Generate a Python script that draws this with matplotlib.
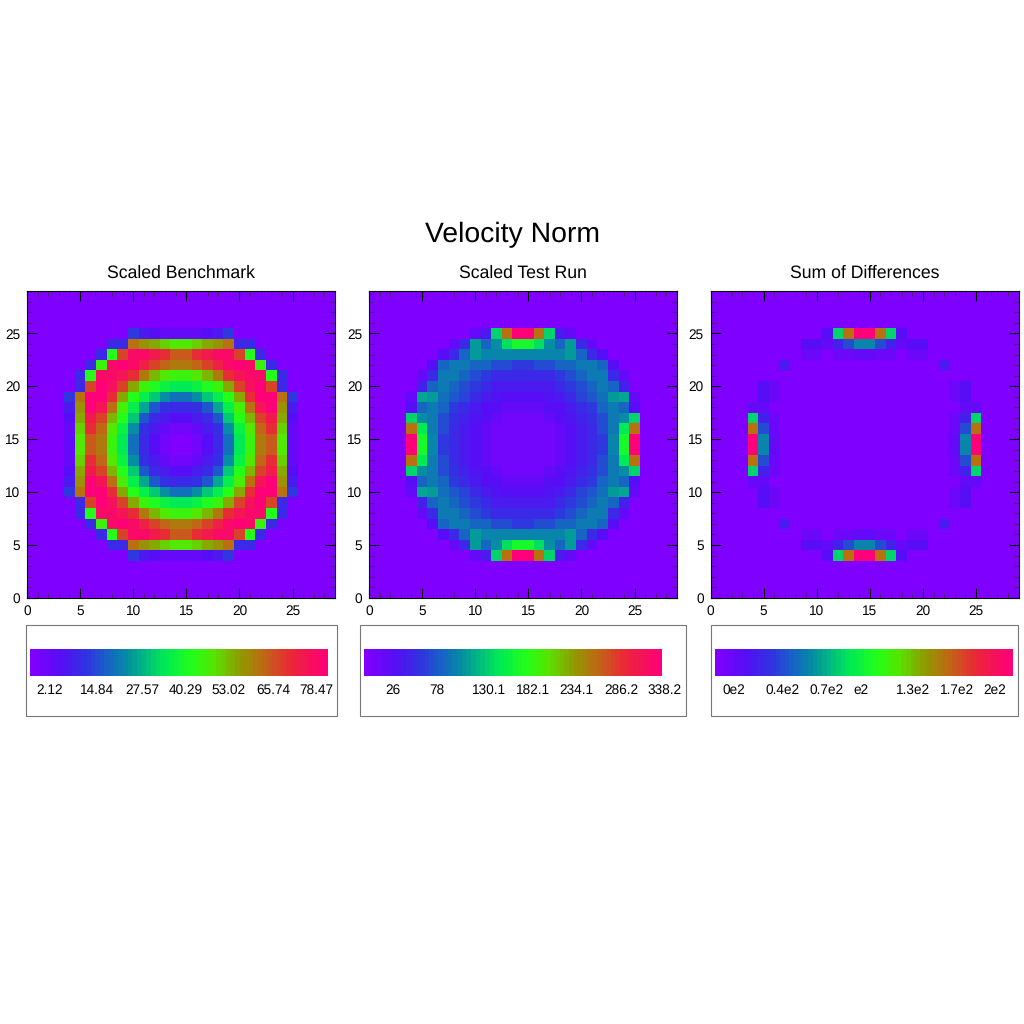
"""Velocity Norm: benchmark, test run and difference fields."""
import matplotlib
matplotlib.use('Agg')
import matplotlib.pyplot as plt
import numpy as np
from matplotlib.colors import LinearSegmentedColormap
from matplotlib.patches import Rectangle
from matplotlib.ticker import MultipleLocator

plt.rcParams['font.family'] = ['Liberation Sans', 'DejaVu Sans']
plt.rcParams['text.hinting'] = 'none'

# colour level (0-31) of one quadrant, rows y=29..15, columns x=0..14
benchmark = [
    [0] * 15,
    [0] * 15,
    [0] * 15,
    [0] * 15,
    [0, 0, 0, 0, 0, 0, 0, 0, 0, 0, 6, 4, 3, 2, 2],
    [0, 0, 0, 0, 0, 0, 0, 0, 5, 5, 24, 22.5, 21.5, 20, 19],
    [0, 0, 0, 0, 0, 0, 0, 5, 17, 26, 30, 30, 28.5, 27, 25],
    [0, 0, 0, 0, 0, 0, 5, 18, 30, 31, 30, 28, 26, 24.5, 23.5],
    [0, 0, 0, 0, 0, 5, 17, 30, 30, 29, 27, 23.5, 21, 19, 18],
    [0, 0, 0, 0, 0, 5, 26, 31, 29.5, 26, 21.5, 18, 16.5, 15, 14],
    [0, 0, 0, 0, 6, 24, 31, 31, 27, 21.5, 17, 14.5, 12.5, 10, 8.5],
    [0, 0, 0, 0, 4, 22.5, 31, 29, 24, 18.5, 14.5, 11, 7.5, 5.5, 5],
    [0, 0, 0, 0, 3, 21.5, 28.5, 26, 21, 17, 12.5, 7.5, 5, 4, 3],
    [0, 0, 0, 0, 2, 20, 27, 24.5, 19, 15, 10, 5.5, 4, 2, 1],
    [0, 0, 0, 0, 2, 19, 25, 23.5, 18, 14, 8.5, 5, 3, 1, 0],
]
test_run = [
    [0] * 15,
    [0] * 15,
    [0] * 15,
    [0] * 15,
    [0, 0, 0, 0, 0, 0, 0, 0, 0, 0, 2, 4, 13, 24, 31],
    [0, 0, 0, 0, 0, 0, 0, 0, 2, 5, 10.5, 8, 10, 13.5, 16],
    [0, 0, 0, 0, 0, 0, 0, 3, 5, 8, 10.5, 9.5, 9.5, 9.5, 9.5],
    [0, 0, 0, 0, 0, 0, 3, 8, 9, 9, 8, 8, 7, 7, 6],
    [0, 0, 0, 0, 0, 2, 5, 9, 9, 8, 7, 6, 5, 5, 5],
    [0, 0, 0, 0, 0, 4.5, 8, 9, 8, 7, 6, 5, 4, 4, 4],
    [0, 0, 0, 0, 2, 11, 10.5, 8.5, 7.5, 6.5, 5, 4, 3.5, 3, 3],
    [0, 0, 0, 0, 3, 8, 9, 8, 6, 5, 4, 3, 3, 2, 2],
    [0, 0, 0, 0, 13, 10, 9, 7, 5.5, 4.5, 3.5, 3, 2, 1, 1],
    [0, 0, 0, 0, 24, 14, 9, 7, 5, 4, 3, 2, 1, 1, 1],
    [0, 0, 0, 0, 31, 16, 9.5, 6, 5, 4, 3, 2, 1, 1, 1],
]
differences = [
    [0] * 15,
    [0] * 15,
    [0] * 15,
    [0] * 15,
    [0, 0, 0, 0, 0, 0, 0, 0, 0, 0, 0, 3, 13, 24, 31],
    [0, 0, 0, 0, 0, 0, 0, 0, 0, 3, 3, 2, 4.5, 7, 9.5],
    [0, 0, 0, 0, 0, 0, 0, 0, 0, 1.5, 1.5, 0, 1.5, 1.5, 2],
    [0, 0, 0, 0, 0, 0, 0, 4, 0, 0, 0, 0, 0, 0, 0],
    [0] * 15,
    [0, 0, 0, 0, 0, 3, 1.5, 0, 0, 0, 0, 0, 0, 0, 0],
    [0, 0, 0, 0, 0, 3, 1.5, 0, 0, 0, 0, 0, 0, 0, 0],
    [0, 0, 0, 0, 2, 2, 0, 0, 0, 0, 0, 0, 0, 0, 0],
    [0, 0, 0, 0, 13, 4.5, 1.5, 0, 0, 0, 0, 0, 0, 0, 0],
    [0, 0, 0, 0, 24, 7, 1.5, 0, 0, 0, 0, 0, 0, 0, 0],
    [0, 0, 0, 0, 31, 9.5, 2, 0, 0, 0, 0, 0, 0, 0, 0],
]

titles = ['Scaled Benchmark', 'Scaled Test Run', 'Sum of Differences']
bar_labels = [
    ['2.12', '14.84', '27.57', '40.29', '53.02', '65.74', '78.47'],
    ['26', '78', '130.1', '182.1', '234.1', '286.2', '338.2'],
    ['0e2', '0.4e2', '0.7e2', 'e2', '1.3e2', '1.7e2', '2e2'],
]

PX = 1024.0
panel_left = [27, 369, 710.5]
bar_left = [30, 364, 715]
box_span = [(25.5, 336.5), (359.5, 686), (710.5, 1018)]
label_px = [
    [50, 97, 142, 186, 229, 273, 316],
    [393, 437, 489, 533, 576, 621, 665],
    [734, 783, 827, 861, 913, 957, 995],
]

anchors = [
    (0.00, (128, 0, 255)), (0.10, (85, 15, 245)), (0.18, (50, 50, 225)),
    (0.25, (25, 95, 200)), (0.32, (5, 140, 165)), (0.38, (0, 185, 130)),
    (0.45, (0, 235, 85)), (0.55, (35, 255, 25)), (0.62, (85, 230, 0)),
    (0.71, (145, 155, 0)), (0.79, (190, 105, 20)), (0.88, (235, 40, 55)),
    (1.00, (255, 0, 120)),
]
cmap = LinearSegmentedColormap.from_list(
    'velocity', [(f, tuple(c / 255 for c in rgb)) for f, rgb in anchors], N=128)


def add_axes(fig, x0, x1, y0, y1, **kw):
    return fig.add_axes([x0 / PX, 1 - y1 / PX, (x1 - x0) / PX, (y1 - y0) / PX], **kw)


def mirror(quadrant):
    top = np.array(quadrant, dtype=float)
    top = np.hstack([top, top[:, ::-1]])
    return np.vstack([top, top[::-1]])


def main():
    fig = plt.figure(figsize=(10.24, 10.24), dpi=100)
    fig.text(513 / PX, 1 - 235 / PX, 'Velocity Norm', ha='center', va='center', fontsize=20.4)

    fields = [benchmark, test_run, differences]
    for i, field in enumerate(fields):
        left = panel_left[i]
        ax = add_axes(fig, left, left + 308, 291, 598)
        grid = mirror(field)
        edges = np.arange(31) - 0.5
        ax.pcolormesh(edges, edges, grid[::-1], cmap=cmap, vmin=0, vmax=31, zorder=1)
        ax.set_xlim(0, 29)
        ax.set_ylim(0, 29)
        ax.set_title(titles[i], fontsize=12.7, pad=9.5)
        ax.xaxis.set_major_locator(MultipleLocator(5))
        ax.yaxis.set_major_locator(MultipleLocator(5))
        ax.xaxis.set_minor_locator(MultipleLocator(1))
        ax.yaxis.set_minor_locator(MultipleLocator(1))
        ax.tick_params(which='major', direction='in', top=True, right=True,
                       length=7.5, width=0.8, labelsize=9.8, pad=5)
        ax.tick_params(which='minor', direction='in', top=True, right=True,
                       length=3.5, width=0.5, color='#333333')
        for spine in ax.spines.values():
            spine.set_linewidth(0.8)

        x0, x1 = box_span[i]
        fig.add_artist(Rectangle((x0 / PX, 1 - 716 / PX), (x1 - x0) / PX, 91 / PX,
                                 transform=fig.transFigure, fill=False,
                                 edgecolor='#777777', linewidth=0.8))

        cax = add_axes(fig, bar_left[i], bar_left[i] + 298, 649, 676)
        cax.imshow(np.linspace(0, 31, 64).reshape(1, -1), cmap=cmap, aspect='auto',
                   vmin=0, vmax=31, interpolation='nearest')
        cax.axis('off')
        for px, label in zip(label_px[i], bar_labels[i]):
            fig.text(px / PX, 1 - 690 / PX, label, ha='center', va='center', fontsize=9.8)

    fig.savefig('out.png', dpi=100)


if __name__ == "__main__":
    main()
